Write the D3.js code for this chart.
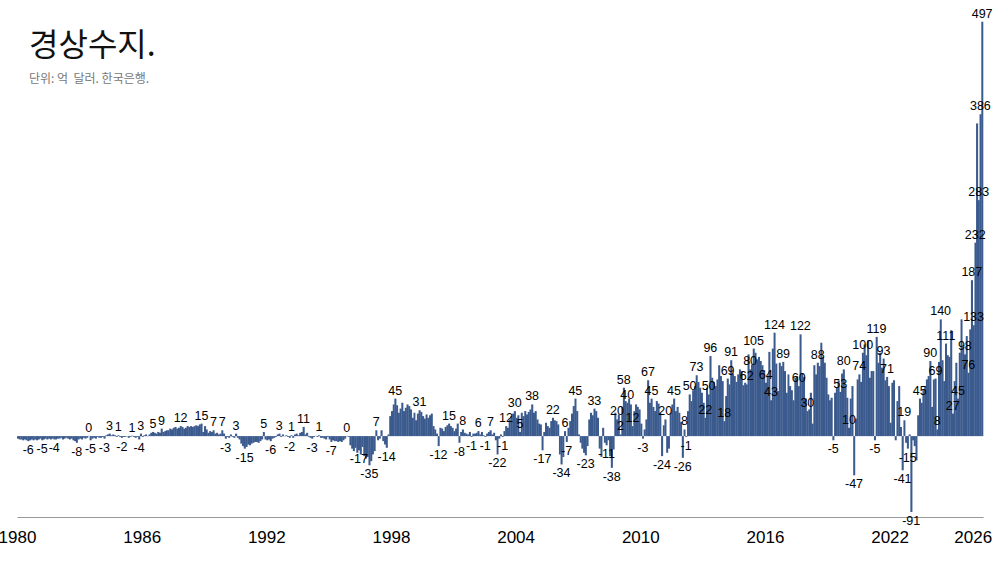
<!DOCTYPE html>
<html><head><meta charset="utf-8">
<script src="https://cdn.jsdelivr.net/npm/d3@7"></script>
<style>body{margin:0;background:#fff}svg{display:block}</style>
</head><body>
<svg id="c" width="1000" height="563"></svg>
<script>
// 경상수지 monthly, 억 달러 (1980-01 .. 2026-06)
const v1980s = [
  -3,-4,-4,-5,-4,-5,-6,-5,-4,-5,-4,-5,
  -4,-3,-5,-4,-3,-4,-3,-4,-3,-4,-4,-3,
  -3,-2,-4,-3,-2,-3,-4,-3,-5,-6,-8,-4,
  -3,-4,-2,-3,-2,0.3,-5,-3,-2,-3,-1,-2,
  -2,-1,-3,1,2,3,1,2,1,-1,1,-1,
  -2,-1,-1,-0.3,-2,-1,0.5,-1,-2,-1,-4,3,
  -1,1,2,-0.3,2,4,5,4,3,5,4,9,
  5,6,7,7,9,8,10,11,9,10,12,11,
  9,10,12,11,12,11,12,13,12,14,15,5,
  12,8,4,6,5,7,3,4,2,3,7,3
];
const v1990s = [
  -3,-1,-2,2,-1,-2,3,-2,-4,-9,-12,-15,
  -13,-10,-11,-9,-8,-7,-7,-8,-6,-4,5,-4,
  -5,-4,-6,-3,-2,-1,2,3,-1,2,-0.3,1,
  -1,-2,1,-2,2,3,1,4,5,11,2,4,
  -1,-2,-3,-1,0.3,-1,1,-2,-2,-3,-4,-1,
  -4,-7,-5,-6,-6,-7,-6,-7,-5,-3,0.3,-1,
  -11,-15,-18,-14,-20,-17,-22,-13,-24,-27,-25,-35,
  -30,-22,-18,7,-5,-3,7,-6,-10,-14,2,24,
  30,38,45,37,28,33,40,30,34,38,36,32,
  22,28,19,27,31,29,24,21,26,22,25,27
];
const v2000s = [
  12,8,3,-12,10,9,6,11,13,15,12,10,
  6,9,15,-8,5,8,4,3,2,5,-1,3,
  3,4,6,2,5,1,-1,3,5,7,2,4,
  -5,-22,-3,2,-1,6,12,10,20,24,27,30,
  22,25,5,28,24,30,26,29,32,38,28,30,
  20,15,14,-17,5,16,12,10,18,22,19,18,
  14,-22,-34,-25,6,-7,10,18,27,36,45,30,
  2,-8,-15,-20,-23,-12,20,28,25,33,30,22,
  -15,-25,10,-8,-11,-5,-24,-38,-16,28,20,26,
  2,35,58,42,40,45,38,12,30,38,35,32
];
const v2010s = [
  15,-3,8,20,67,40,45,35,30,42,39,28,
  -24,13,20,-20,-15,28,38,45,30,35,28,17,
  -26,8,-1,30,50,42,55,60,73,65,58,52,
  40,22,58,50,96,70,65,60,68,85,72,66,
  18,48,69,62,91,75,72,65,74,80,78,61,
  64,62,98,80,86,105,100,92,95,90,85,79,
  64,72,101,43,105,124,87,54,88,84,89,78,
  52,74,60,55,43,70,72,60,122,75,71,45,
  30,32,52,15,85,74,88,84,112,95,88,70,
  50,43,46,-5,52,58,67,53,75,80,60,46
];
const v2020s = [
  10,45,60,-47,21,68,74,65,100,110,97,115,
  70,78,78,-5,119,88,100,82,93,67,71,60,
  16,64,67,-5,42,60,11,-41,19,-8,-15,2,
  -91,-5,-12,-29,25,45,40,55,60,68,72,90,
  35,68,69,8,89,140,91,66,111,97,95,127,
  27,66,88,45,100,140,107,98,120,76,128,187,
  133,232,375,283,386,497
];
const tickYears = [1980,1986,1992,1998,2004,2010,2016,2022,2026];
const titleText = "경상수지.";
const subtitleText = "단위: 억  달러. 한국은행.";

const values = [].concat(v1980s, v1990s, v2000s, v2010s, v2020s);
const data = values.map((v, i) => ({ date: new Date(1980, i, 1), next: new Date(1980, i + 1, 1), v }));

const svg = d3.select("#c");
const x = d3.scaleTime()
  .domain([new Date(1980, 0, 1), new Date(1980, values.length, 1)])
  .range([17, 983]);
const y = d3.scaleLinear().domain([-97, 497]).range([517, 21.7]);

const barColor = "#3b5a8d";
svg.append("g").selectAll("rect").data(data).join("rect")
  .attr("x", d => x(d.date))
  .attr("width", d => x(d.next) - x(d.date) + 0.3)
  .attr("y", d => y(Math.max(0, d.v)))
  .attr("height", d => Math.abs(y(d.v) - y(0)))
  .attr("fill", barColor);

// x axis
const ax = svg.append("g").attr("transform", "translate(0,517)")
  .call(d3.axisBottom(x)
    .tickValues(tickYears.map(t => new Date(t, 0, 1)))
    .tickFormat(d3.timeFormat("%Y"))
    .tickSize(0).tickSizeOuter(0).tickPadding(14));
ax.select(".domain").attr("stroke", "#999");
ax.selectAll("text").attr("font-family", "'Liberation Sans', Arial, sans-serif")
  .attr("font-size", 17).attr("fill", "#000");

// value labels: local extremes (and large values), larger magnitude first, no overlaps
const fmt = v => (v < 0 ? "-" : "") + Math.round(Math.abs(v));
const lg = svg.append("g")
  .attr("font-family", "'Liberation Sans', Arial, sans-serif")
  .attr("font-size", 12.5).attr("fill", "#000").attr("text-anchor", "middle");
const probe = lg.append("text").attr("x", -100).attr("y", -100);
const measure = s => { probe.text(s); return probe.node().getComputedTextLength(); };

const cand = [];
values.forEach((v, i) => {
  const a = i > 0 ? values[i - 1] : null;
  const b = i < values.length - 1 ? values[i + 1] : null;
  const peak = (a === null || v >= a) && (b === null || v >= b);
  const trough = (a === null || v <= a) && (b === null || v <= b);
  if (peak || trough || Math.abs(v) >= 100) cand.push(i);
});
cand.sort((p, q) => Math.abs(values[q]) - Math.abs(values[p]));
const placed = [];
cand.forEach(i => {
  const d = data[i];
  const cx = (x(d.date) + x(d.next)) / 2;
  const by = d.v >= 0 ? y(d.v) - 4 : y(d.v) + 13;
  const t = fmt(d.v);
  const w = measure(t);
  const box = { x0: cx - w / 2 - 0.3, x1: cx + w / 2 + 0.3, y0: by - 11.5, y1: by + 3 };
  if (placed.some(p => box.x0 < p.x1 && box.x1 > p.x0 && box.y0 < p.y1 && box.y1 > p.y0)) return;
  placed.push(box);
  lg.append("text").attr("x", cx).attr("y", by).text(t);
});
probe.remove();

// title
svg.append("text").attr("x", 29).attr("y", 56)
  .attr("font-family", "'Noto Sans CJK KR', 'Noto Sans', sans-serif")
  .attr("font-size", 32).attr("fill", "#111").text(titleText);
svg.append("text").attr("x", 29).attr("y", 83)
  .attr("font-family", "'Noto Sans CJK KR', 'Noto Sans', sans-serif")
  .attr("font-size", 12).attr("fill", "#777")
  .style("white-space", "pre").text(subtitleText);
</script>
</body></html>
